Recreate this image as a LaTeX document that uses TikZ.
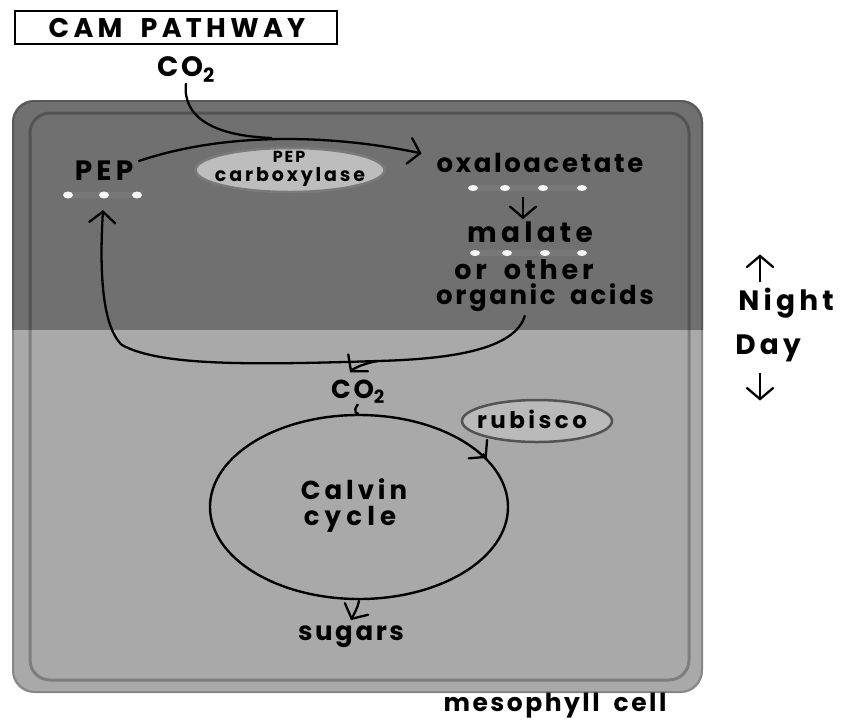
\documentclass[tikz,border=0pt]{standalone}
\usepackage{fontspec}
\setmainfont{Poppins}[WordSpace=1.8]
\usetikzlibrary{arrows.meta,shapes.geometric,calc}
\definecolor{cellDark}{HTML}{707070}
\definecolor{cellLight}{HTML}{A9A9A9}
\definecolor{enzFill}{HTML}{BDBDBD}
\definecolor{enzLine}{HTML}{7A7A7A}
\begin{document}
\begin{tikzpicture}[x=1pt,y=-1pt,line width=2.3pt,
  lbl/.style 2 args={inner sep=0pt,anchor=base,font=\fontsize{#1}{#1}\selectfont\bfseries\addfontfeature{LetterSpace=#2}},
  arr/.style={-{Straight Barb[length=11pt,width=26pt,line cap=round]}},
  enz/.style={ellipse,draw=enzLine,fill=enzFill,line width=2.5pt,inner sep=0pt},
  dot/.style={fill=white!92!gray,draw=none},
  dotbar/.style={draw=white,opacity=0.06,line width=6pt}]
\useasboundingbox (0,0) rectangle (842,721);
% cell
\fill[cellLight,rounded corners=22pt] (12,100) rectangle (703,693);
\begin{scope}
  \clip[rounded corners=22pt] (12,100) rectangle (703,693);
  \fill[cellDark] (0,0) rectangle (842,330);
\end{scope}
\draw[black,opacity=0.2,line width=2pt,rounded corners=22pt] (13,101) rectangle (702,692);
\draw[black,opacity=0.25,line width=3pt,rounded corners=20pt] (30,113) rectangle (689,680);
% title
\node[draw,line width=2pt,fill=white,minimum width=322pt,minimum height=33pt,inner sep=0pt] (title) at (176,27) {};
\node[lbl={27}{16}] (titletext) at (177,37) {CAM PATHWAY};
% texts
\node[lbl={28}{10}] (co2top) at (186,76) {CO\textsubscript{2}};
\node[lbl={28}{15}] (pep) at (104,180) {PEP};
\node[enz,minimum width=189pt,minimum height=44pt] (pepc) at (290,170) {};
\node[lbl={16}{12}] (pepctext1) at (289,162) {PEP};
\node[lbl={19}{15}] (pepctext2) at (290,181) {carboxylase};
\node[lbl={26}{10}] (oxalo) at (540,172) {oxaloacetate};
\node[lbl={28}{15}] (malate) at (530,242) {malate};
\node[lbl={27}{14}] (other) at (524,279) {or other};
\node[lbl={26}{10}] (acids) at (545,304) {organic acids};
\node[lbl={26}{10}] (co2mid) at (358,398) {CO\textsubscript{2}};
\node[enz,minimum width=150pt,minimum height=42pt,fill=cellLight!80!white,draw=gray!65!black] (rubisco) at (537,421) {};
\node[lbl={23}{15}] (rubtext) at (532,428) {rubisco};
\node[ellipse,draw,line width=2.4pt,minimum width=298pt,minimum height=184pt,inner sep=0pt] (calvin) at (359,507) {};
\node[lbl={26}{15}] (calvintext1) at (354,499) {Calvin};
\node[lbl={26}{20}] (calvintext2) at (350,525) {cycle};
\node[lbl={26}{10}] (sugars) at (351,640) {sugars};
\node[lbl={28}{15}] (night) at (786,310) {Night};
\node[lbl={28}{15}] (day) at (768,354) {Day};
\node[lbl={25}{10}] (meso) at (555,711) {mesophyll cell};
% dots
\node[inner sep=0pt,minimum width=80pt,minimum height=8pt] (pepdots) at (103,195) {};
\draw[dotbar] (68,195) -- (137,195);
\foreach \x in {68,104,137} \fill[dot] (\x,195) ellipse (5pt and 3.5pt);
\node[inner sep=0pt,minimum width=120pt,minimum height=8pt] (oxdots) at (527,188) {};
\draw[dotbar] (473,188) -- (582,188);
\foreach \x in {473,505,543,582} \fill[dot] (\x,188) ellipse (5pt and 3pt);
\node[inner sep=0pt,minimum width=120pt,minimum height=8pt] (madots) at (527,253) {};
\draw[dotbar] (475,253) -- (582,253);
\foreach \x in {475,507,545,582} \fill[dot] (\x,253) ellipse (5pt and 3pt);
% connectors
\coordinate (merge) at (272,138);
\draw[arr] ($(pep.north east)+(4,2)$) .. controls (230,130) and (340,136) .. ($(oxalo.west)+(-14,-9)$);
\draw (co2top.south) .. controls (182,118) and (215,136) .. (merge);
\draw[arr] (oxdots.south) ++(-4,4) -- ++(0,22);
\coordinate (split) at (378,361);
\draw[arr] ($(acids.south)+(-20,3)$) .. controls (515,350) and (450,359) .. (split) .. controls (250,365) and (160,366) .. (122,345) .. controls (100,325) and (100,260) .. ($(pepdots.south)+(0,10)$);
\draw[arr] (split) .. controls (360,364) and (352,370) .. ($(co2mid.north)+(-8,-6)$);
\draw (co2mid.south) .. controls (352,412) and (357,414) .. (calvin.north);
\coordinate (ah) at (calvin.21);
\draw[arr] ($(ah)+(-4,-4)$) -- (ah);
\draw[arr] (calvin.south) .. controls (358,606) .. ($(sugars.north)+(0,-4)$);
\draw[arr] ($(night.north)+(-26,-4)$) -- ++(0,-28);
\draw[arr] ($(day.south)+(-8,10)$) -- ++(0,28);
\end{tikzpicture}
\end{document}
